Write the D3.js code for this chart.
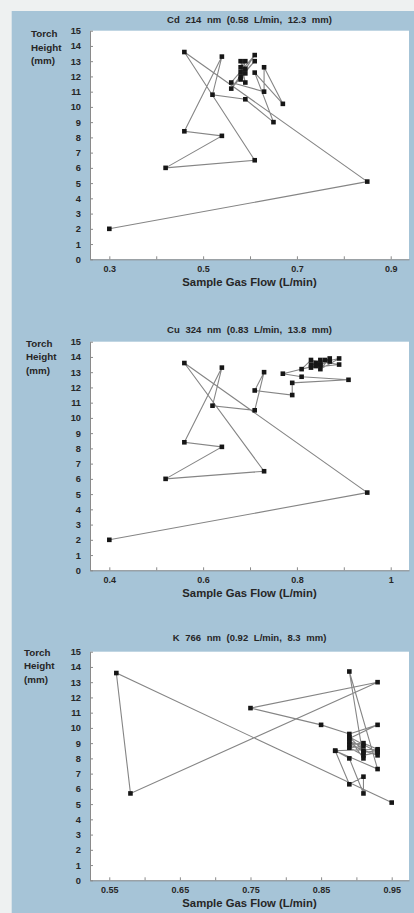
<!DOCTYPE html>
<html><head><meta charset="utf-8">
<script src="https://cdn.jsdelivr.net/npm/d3@7"></script>
<style>
html,body{margin:0;padding:0;background:#eef1f1;}
svg{display:block;}
text{font-family:"Liberation Sans",Arial,Helvetica,sans-serif;font-weight:bold;fill:#262626;}
</style></head>
<body>
<script>
// ---- data ----
const titles = ["Cd 214 nm (0.58 L/min, 12.3 mm)", "Cu 324 nm (0.83 L/min, 13.8 mm)", "K 766 nm (0.92 L/min, 8.3 mm)"];
const xAxisTitle = "Sample Gas Flow (L/min)";
const yAxisTitle = ["Torch", "Height", "(mm)"];

const cdFlow   = [0.30,0.85,0.46,0.61,0.42,0.54,0.46,0.54,0.52,0.59,0.65,0.61,0.67,0.63,0.63,0.56,0.61,0.58,0.61,0.56,0.59,0.58,0.59,0.58,0.59,0.58,0.59,0.58];
const cdHeight = [2.0, 5.1, 13.6,6.5, 6.0, 8.1, 8.4, 13.3,10.8,10.5,9.0, 12.25,10.2,12.6,11.0,11.6,13.4,12.0,13.0,11.2,12.5,13.0,11.6,12.6,13.0,11.8,12.2,12.3];

const cuFlow   = [0.40,0.95,0.56,0.73,0.52,0.64,0.56,0.64,0.62,0.71,0.73,0.71,0.79,0.79,0.91,0.81,0.77,0.85,0.81,0.83,0.89,0.83,0.87,0.85,0.89,0.83,0.86,0.84,0.85,0.84,0.87,0.85];
const cuHeight = [2.0, 5.1, 13.6,6.5, 6.0, 8.1, 8.4, 13.3,10.8,10.5,13.0,11.8,11.5,12.3,12.5,12.7,12.9,13.5,13.2,13.8,13.5,13.3,13.9,13.2,13.9,13.5,13.8,13.6,13.8,13.4,13.7,13.5];

const kFlow   = [0.95,0.56,0.58,0.93,0.75,0.85,0.89,0.93,0.89,0.91,0.89,0.93,0.87,0.89,0.91,0.91,0.89,0.87,0.93,0.91,0.89,0.93,0.91,0.89,0.93,0.91,0.89,0.91,0.89,0.91,0.93];
const kHeight = [5.1, 13.6,5.7, 13.0,11.3,10.2,9.6, 10.2,9.3, 8.0, 13.7,7.3, 8.5, 6.3, 6.8, 5.7, 8.0, 8.5, 8.6, 9.0, 8.9, 8.2, 8.5, 9.4, 8.4, 8.2, 8.7, 8.8, 9.1, 8.4, 8.5];

const xTicks = [
  [0.3,0.4,0.5,0.6,0.7,0.8,0.9],
  [0.4,0.5,0.6,0.7,0.8,0.9,1.0],
  [0.55,0.6,0.65,0.7,0.75,0.8,0.85,0.9,0.95]
];
const xTickLabels = [
  ["0.3","","0.5","","0.7","","0.9"],
  ["0.4","","0.6","","0.8","","1"],
  ["0.55","","0.65","","0.75","","0.85","","0.95"]
];
const xDomains = [[0.2588,0.939],[0.3588,1.039],[0.5227,0.9745]];
const yTicks = [0,1,2,3,4,5,6,7,8,9,10,11,12,13,14,15];

// ---- layout ----
const W = 414, H = 913;
const panels = [
  {flow:cdFlow, height:cdHeight, top:30.7, titleY:23.3, yLabX:31, yLabY:[36.7,50.7,64]},
  {flow:cuFlow, height:cuHeight, top:341.7, titleY:333.3, yLabX:26, yLabY:[346.5,360.3,373.5]},
  {flow:kFlow, height:kHeight, top:651.7, titleY:640.5, yLabX:24, yLabY:[655.5,669,682.5]}
];
const plotL = 90, plotR = 409, plotH = 228.6;

const svg = d3.select("body").append("svg").attr("width",W).attr("height",H);
svg.append("rect").attr("x",11.7).attr("y",11).attr("width",W-11.7).attr("height",H-11).attr("fill","#a6c4d7");

panels.forEach((p,i)=>{
  const bottom = p.top + plotH;
  const x = d3.scaleLinear().domain(xDomains[i]).range([plotL,plotR]);
  const y = d3.scaleLinear().domain([0,15]).range([bottom,p.top]);
  const g = svg.append("g");
  g.append("rect").attr("x",plotL).attr("y",p.top).attr("width",plotR-plotL).attr("height",plotH).attr("fill","#ffffff");

  const xa = d3.axisBottom(x).tickValues(xTicks[i]).tickFormat((d,j)=>xTickLabels[i][j])
    .tickSizeInner(-3).tickSizeOuter(0).tickPadding(6);
  const gx = g.append("g").attr("transform",`translate(0,${bottom})`).call(xa);
  gx.selectAll("path,line").attr("stroke","#8a8a8a");
  gx.selectAll("text").attr("font-size","9px").attr("fill","#262626").attr("font-family",null);

  const ya = d3.axisLeft(y).tickValues(yTicks).tickSizeInner(-3).tickSizeOuter(0).tickPadding(9);
  const gy = g.append("g").attr("transform",`translate(${plotL},0)`).call(ya);
  gy.selectAll("path,line").attr("stroke","#8a8a8a");
  gy.selectAll("text").attr("font-size","9.3px").attr("fill","#262626").attr("font-family",null);

  g.append("text").attr("x",(plotL+plotR)/2).attr("y",p.titleY).attr("text-anchor","middle")
    .attr("font-size","9.5px").attr("word-spacing","3px").text(titles[i]);
  g.append("text").attr("x",(plotL+plotR)/2).attr("y",bottom+27).attr("text-anchor","middle")
    .attr("font-size","11.3px").text(xAxisTitle);
  yAxisTitle.forEach((t,k)=>{
    g.append("text").attr("x",p.yLabX).attr("y",p.yLabY[k]).attr("font-size","9.8px").text(t);
  });

  const pts = p.flow.map((f,k)=>[f,p.height[k]]);
  const line = d3.line().x(d=>x(d[0])).y(d=>y(d[1]));
  g.append("path").datum(pts).attr("d",line).attr("fill","none").attr("stroke","#858585").attr("stroke-width",1.1);
  const s = 4.6;
  g.selectAll("rect.m").data(pts).enter().append("rect").attr("class","m")
    .attr("x",d=>x(d[0])-s/2).attr("y",d=>y(d[1])-s/2).attr("width",s).attr("height",s).attr("fill","#161616");
});
</script>
</body></html>
